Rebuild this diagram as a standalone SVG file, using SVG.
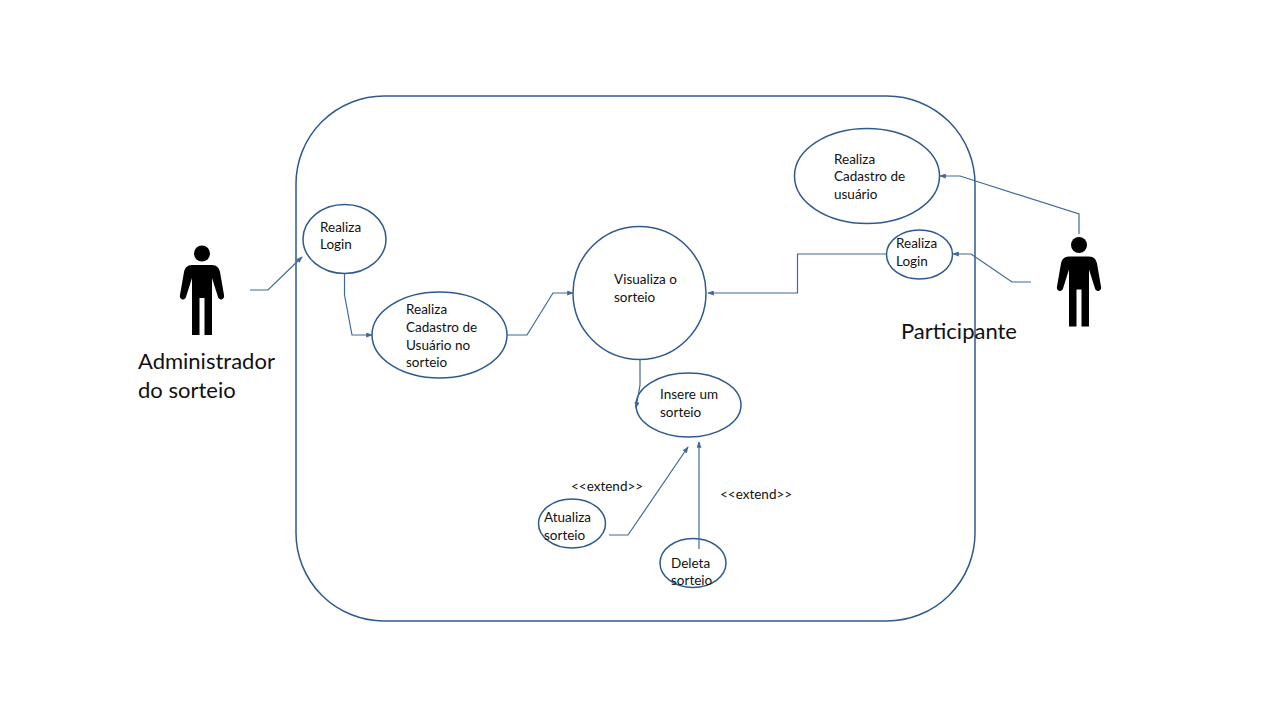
<svg xmlns="http://www.w3.org/2000/svg" width="1280" height="720" viewBox="0 0 1280 720">
<style>
text{font-family:"Lato","Open Sans",sans-serif;fill:#111}
.s{font-size:13.500px}
.b{font-size:22px}
.n{fill:#fff;stroke:#2f5a8f;stroke-width:1.5}
.c{fill:none;stroke:#41689a;stroke-width:1.2}
</style>
<defs>
<marker id="a" viewBox="0 0 8 6" refX="7" refY="3" markerWidth="7" markerHeight="5" markerUnits="userSpaceOnUse" orient="auto"><path d="M0 0L8 3L0 6Z" fill="#41689a"/></marker>
<g id="actor" fill="#000"><circle cx="0" cy="-36.500" r="8"/><path d="M-10-25H10C15-25 17-22 18-18L22 5C23 10 17 11 16 7L10-12V45H2.500V8H-2.500V45H-10V-12L-16 7C-17 11-23 10-22 5L-18-18C-17-22-15-25-10-25Z"/></g>
</defs>
<g id="system"><rect x="296" y="96" width="679" height="525" rx="88" ry="88" fill="none" stroke="#2f5a8f" stroke-width="1.5"/></g>
<g id="n-login-admin"><ellipse class="n" cx="344.500" cy="239" rx="41.500" ry="34.500"/><text class="s" x="320" y="232">Realiza</text><text class="s" x="320" y="249">Login</text></g>
<g id="n-cadastro-sorteio"><ellipse class="n" cx="439.500" cy="335" rx="67.500" ry="43"/><text class="s" x="406" y="314">Realiza</text><text class="s" x="406" y="332">Cadastro de</text><text class="s" x="406" y="350">Usuário no</text><text class="s" x="406" y="367">sorteio</text></g>
<g id="n-visualiza"><circle class="n" cx="639.500" cy="293" r="66.500"/><text class="s" x="614" y="284">Visualiza o</text><text class="s" x="614" y="302">sorteio</text></g>
<g id="n-cadastro-usuario"><ellipse class="n" cx="867" cy="176" rx="72.500" ry="47.500"/><text class="s" x="834" y="164">Realiza</text><text class="s" x="834" y="181">Cadastro de</text><text class="s" x="834" y="199">usuário</text></g>
<g id="n-login-part"><ellipse class="n" cx="919.500" cy="254.500" rx="33" ry="24.500"/><text class="s" x="896" y="248">Realiza</text><text class="s" x="896" y="266">Login</text></g>
<g id="n-insere"><ellipse class="n" cx="688.500" cy="405" rx="52.500" ry="32"/><text class="s" x="660" y="399">Insere um</text><text class="s" x="660" y="417">sorteio</text></g>
<g id="n-atualiza"><ellipse class="n" cx="572" cy="523.500" rx="33.500" ry="24.500"/><text class="s" x="544" y="522">Atualiza</text><text class="s" x="544" y="540">sorteio</text></g>
<g id="n-deleta"><ellipse class="n" cx="693" cy="563" rx="33" ry="24.500"/><text class="s" x="671" y="568">Deleta</text><text class="s" x="671" y="585">sorteio</text></g>
<g id="connectors">
<path class="c" marker-end="url(#a)" d="M250 290H268L302 257"/>
<path class="c" marker-end="url(#a)" d="M344.500 274V295L352 335H372"/>
<path class="c" marker-end="url(#a)" d="M507 335H527L553 293H573"/>
<path class="c" marker-end="url(#a)" d="M886 254H797.500V293H708"/>
<path class="c" marker-end="url(#a)" d="M640 360V385L636 408"/>
<path class="c" marker-end="url(#a)" d="M1079 234V214L960 176H940"/>
<path class="c" marker-end="url(#a)" d="M1031 282H1012L971 254H953"/>
<path class="c" marker-end="url(#a)" d="M609 535H628L688 447"/>
<path class="c" marker-end="url(#a)" d="M699 549V442"/>
</g>
<g id="actor-admin"><use href="#actor" x="202" y="290"/><text class="b" x="138" y="369">Administrador</text><text class="b" x="138" y="398">do sorteio</text></g>
<g id="actor-part"><use href="#actor" x="1079" y="281.500"/><text class="b" x="901" y="339">Participante</text></g>
<text class="s" x="571" y="491">&lt;&lt;extend&gt;&gt;</text>
<text class="s" x="720" y="499">&lt;&lt;extend&gt;&gt;</text>
</svg>
